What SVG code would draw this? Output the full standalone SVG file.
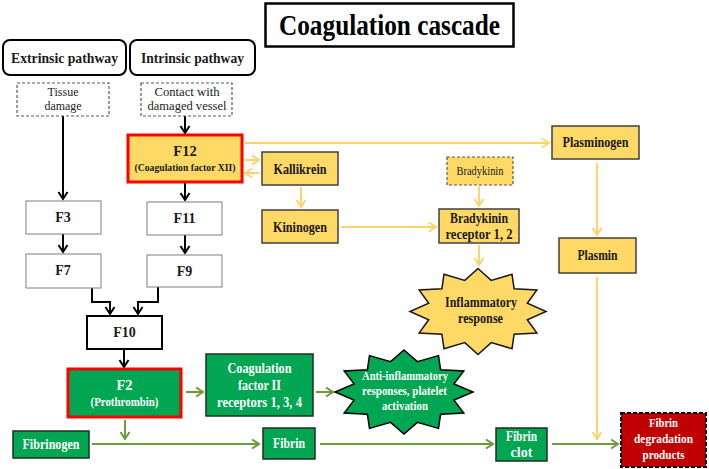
<svg xmlns="http://www.w3.org/2000/svg" width="709" height="469" viewBox="0 0 709 469">
<defs>
<style>
.b{font-family:"Liberation Serif","Times New Roman",serif;font-weight:bold;text-anchor:middle}
.r{font-family:"Liberation Serif","Times New Roman",serif;text-anchor:middle}
.dk{fill:#1a1a1a}
.w{fill:#ffffff}
.wb{fill:#ffffff;stroke:#7f7f7f;stroke-width:1}
.yb{fill:#FFD966;stroke:#404040;stroke-width:1.5}
.gb{fill:#00A651;stroke:#1f2f1f;stroke-width:1.5}
.redb{stroke:#FF0000;stroke-width:3}
.ka{fill:none;stroke:#000;stroke-width:2}
.ya{fill:none;stroke:#FCD46A;stroke-width:2}
.ga{fill:none;stroke:#6B9B3A;stroke-width:2}
</style>
<marker id="mk" markerUnits="userSpaceOnUse" markerWidth="12" markerHeight="12" refX="10" refY="6" orient="auto"><path d="M3,1.5 L10,6 L3,10.5" fill="none" stroke="#000" stroke-width="2"/></marker>
<marker id="my" markerUnits="userSpaceOnUse" markerWidth="12" markerHeight="12" refX="10" refY="6" orient="auto"><path d="M3,1.5 L10,6 L3,10.5" fill="none" stroke="#FCD46A" stroke-width="2"/></marker>
<marker id="mg" markerUnits="userSpaceOnUse" markerWidth="12" markerHeight="12" refX="10" refY="6" orient="auto"><path d="M3,1.5 L10,6 L3,10.5" fill="none" stroke="#6B9B3A" stroke-width="2"/></marker>
</defs>
<rect width="709" height="469" fill="#ffffff"/>

<g id="title">
<rect x="265.5" y="3.5" width="248" height="43" fill="#fff" stroke="#000" stroke-width="2.5"/>
<text class="b" x="389.5" y="35" font-size="30" textLength="221" lengthAdjust="spacingAndGlyphs">Coagulation cascade</text>
</g>

<g id="connectors">
<path class="ka" d="M63,116 V199" marker-end="url(#mk)"/>
<path class="ka" d="M185,116 V133" marker-end="url(#mk)"/>
<path class="ka" d="M63,234 V252" marker-end="url(#mk)"/>
<path class="ka" d="M185,182 V200" marker-end="url(#mk)"/>
<path class="ka" d="M185,235 V253" marker-end="url(#mk)"/>
<path class="ka" d="M92,288 V302 H110 V314" marker-end="url(#mk)"/>
<path class="ka" d="M158,287 V302 H138 V314" marker-end="url(#mk)"/>
<path class="ka" d="M124,349 V367" marker-end="url(#mk)"/>

<path class="ya" d="M245,143 H549" marker-end="url(#my)"/>
<path class="ya" d="M245,160 H259" marker-end="url(#my)"/>
<path class="ya" d="M259,173 H245" marker-end="url(#my)"/>
<path class="ya" d="M301,187 V207" marker-end="url(#my)"/>
<path class="ya" d="M341,227 H436" marker-end="url(#my)"/>
<path class="ya" d="M479,186 V206" marker-end="url(#my)"/>
<path class="ya" d="M479,245 V265" marker-end="url(#my)"/>
<path class="ya" d="M597,163 V235" marker-end="url(#my)"/>
<path class="ya" d="M597,277 V439" marker-end="url(#my)"/>

<path class="ga" d="M186,392 H203" marker-end="url(#mg)"/>
<path class="ga" d="M316,392 H333" marker-end="url(#mg)"/>
<path class="ga" d="M125,420 V439" marker-end="url(#mg)"/>
<path class="ga" d="M92,444 H259" marker-end="url(#mg)"/>
<path class="ga" d="M320,444 H493" marker-end="url(#mg)"/>
<path class="ga" d="M552,444 H618" marker-end="url(#mg)"/>
</g>

<g id="extrinsic">
<rect x="3" y="40" width="123" height="35" rx="7" fill="#fff" stroke="#000" stroke-width="2"/>
<text class="b dk" x="64.5" y="63" font-size="14.5" textLength="107" lengthAdjust="spacingAndGlyphs">Extrinsic pathway</text>
</g>
<g id="intrinsic">
<rect x="130" y="40" width="125" height="35" rx="7" fill="#fff" stroke="#000" stroke-width="2"/>
<text class="b dk" x="192.5" y="63" font-size="14.5" textLength="103" lengthAdjust="spacingAndGlyphs">Intrinsic pathway</text>
</g>
<g id="tissue">
<rect x="17" y="83" width="92" height="33" fill="#fff" stroke="#595959" stroke-width="1.2" stroke-dasharray="3,2"/>
<text class="r dk" x="63" y="96" font-size="13" textLength="31" lengthAdjust="spacingAndGlyphs">Tissue</text>
<text class="r dk" x="63" y="110" font-size="13" textLength="37" lengthAdjust="spacingAndGlyphs">damage</text>
</g>
<g id="contact">
<rect x="141" y="83" width="91" height="33" fill="#fff" stroke="#595959" stroke-width="1.2" stroke-dasharray="3,2"/>
<text class="r dk" x="187" y="96" font-size="13" textLength="65" lengthAdjust="spacingAndGlyphs">Contact with</text>
<text class="r dk" x="187" y="110" font-size="13" textLength="79" lengthAdjust="spacingAndGlyphs">damaged vessel</text>
</g>

<g id="f3"><rect class="wb" x="26" y="201" width="75" height="33"/><text class="b dk" x="63" y="222" font-size="14">F3</text></g>
<g id="f7"><rect class="wb" x="26" y="254" width="75" height="34"/><text class="b dk" x="63" y="275" font-size="14">F7</text></g>
<g id="f11"><rect class="wb" x="147" y="202" width="75" height="33"/><text class="b dk" x="184.5" y="223" font-size="14">F11</text></g>
<g id="f9"><rect class="wb" x="147" y="255" width="75" height="32"/><text class="b dk" x="184.5" y="276" font-size="14">F9</text></g>

<g id="f12">
<rect x="128" y="135" width="114" height="47" fill="#FFD966" class="redb"/>
<text class="b dk" x="185" y="156" font-size="14.5">F12</text>
<text class="b dk" x="185" y="171" font-size="11" textLength="101" lengthAdjust="spacingAndGlyphs">(Coagulation factor XII)</text>
</g>
<g id="kallikrein"><rect class="yb" x="262" y="152" width="76" height="33"/><text class="b dk" x="300" y="173.5" font-size="14" textLength="53" lengthAdjust="spacingAndGlyphs">Kallikrein</text></g>
<g id="kininogen"><rect class="yb" x="262" y="210" width="76" height="33"/><text class="b dk" x="300" y="232" font-size="14" textLength="54" lengthAdjust="spacingAndGlyphs">Kininogen</text></g>
<g id="plasminogen"><rect class="yb" x="552" y="126" width="87" height="33"/><text class="b dk" x="595.5" y="147" font-size="14" textLength="66" lengthAdjust="spacingAndGlyphs">Plasminogen</text></g>
<g id="bradykinin"><rect x="447" y="157" width="66" height="28" fill="#FFD966" stroke="#595959" stroke-width="1.2" stroke-dasharray="3,2"/><text class="r dk" x="480" y="175" font-size="11.5" textLength="47" lengthAdjust="spacingAndGlyphs">Bradykinin</text></g>
<g id="bradykinin-receptor"><rect class="yb" x="439" y="209" width="80" height="34"/>
<text class="b dk" x="479" y="223" font-size="14" textLength="58" lengthAdjust="spacingAndGlyphs">Bradykinin</text>
<text class="b dk" x="479" y="238.5" font-size="14" textLength="67" lengthAdjust="spacingAndGlyphs">receptor 1, 2</text></g>
<g id="plasmin"><rect class="yb" x="559" y="238" width="77" height="35"/><text class="b dk" x="597.5" y="260" font-size="14" textLength="40" lengthAdjust="spacingAndGlyphs">Plasmin</text></g>

<g id="inflammatory">
<polygon points="478,268.5 491.2,280.4 512,274.3 514.1,288.7 536.9,290 527.3,303.2 546,311.5 527.3,319.8 536.9,333 514.1,334.3 512,348.7 491.2,342.6 478,354.5 464.8,342.6 444,348.7 441.9,334.3 419.1,333 428.7,319.8 410,311.5 428.7,303.2 419.1,290 441.9,288.7 444,274.3 464.8,280.4" fill="#FFD966" stroke="#1a1a1a" stroke-width="1.5" stroke-linejoin="miter"/>
<text class="b dk" x="481" y="307" font-size="15" textLength="72" lengthAdjust="spacingAndGlyphs">Inflammatory</text>
<text class="b dk" x="480.5" y="323" font-size="15" textLength="45" lengthAdjust="spacingAndGlyphs">response</text>
</g>

<g id="f10"><rect x="87" y="316" width="75" height="33" fill="#fff" stroke="#000" stroke-width="2"/><text class="b dk" x="124.5" y="337" font-size="14">F10</text></g>
<g id="f2">
<rect x="68" y="369" width="113" height="48" fill="#00A651" class="redb"/>
<text class="b w" x="124.5" y="390" font-size="14.5">F2</text>
<text class="b w" x="124.5" y="406" font-size="13" textLength="68" lengthAdjust="spacingAndGlyphs">(Prothrombin)</text>
</g>
<g id="receptors">
<rect class="gb" x="206" y="354" width="107" height="62"/>
<text class="b w" x="259.5" y="373" font-size="14" textLength="64" lengthAdjust="spacingAndGlyphs">Coagulation</text>
<text class="b w" x="259.5" y="389.5" font-size="14" textLength="43" lengthAdjust="spacingAndGlyphs">factor II</text>
<text class="b w" x="259.5" y="407" font-size="14" textLength="85" lengthAdjust="spacingAndGlyphs">receptors 1, 3, 4</text>
</g>
<g id="anti-inflammatory">
<polygon points="404,350 417.4,361.6 438.5,355.6 440.6,369.7 463.8,371 454,383.9 473,392 454,400.1 463.8,413 440.6,414.3 438.5,428.4 417.4,422.4 404,434 390.6,422.4 369.5,428.4 367.4,414.3 344.2,413 354,400.1 335,392 354,383.9 344.2,371 367.4,369.7 369.5,355.6 390.6,361.6" fill="#00A651" stroke="#000" stroke-width="1.5"/>
<text class="b w" x="405" y="380" font-size="13" textLength="86" lengthAdjust="spacingAndGlyphs">Anti-inflammatory</text>
<text class="b w" x="404.5" y="395" font-size="13" textLength="85" lengthAdjust="spacingAndGlyphs">responses, platelet</text>
<text class="b w" x="405" y="410" font-size="13" textLength="46" lengthAdjust="spacingAndGlyphs">activation</text>
</g>
<g id="fibrinogen"><rect class="gb" x="13" y="431" width="76" height="27"/><text class="b w" x="51" y="448.5" font-size="14" textLength="57" lengthAdjust="spacingAndGlyphs">Fibrinogen</text></g>
<g id="fibrin"><rect class="gb" x="263" y="428" width="52" height="31"/><text class="b w" x="289" y="447.5" font-size="14" textLength="32" lengthAdjust="spacingAndGlyphs">Fibrin</text></g>
<g id="fibrin-clot"><rect class="gb" x="496" y="428" width="51" height="33"/>
<text class="b w" x="521.5" y="440.5" font-size="14" textLength="31" lengthAdjust="spacingAndGlyphs">Fibrin</text>
<text class="b w" x="521.5" y="456.5" font-size="14">clot</text></g>
<g id="fibrin-degradation">
<rect x="621" y="413" width="85" height="54" fill="#C00000" stroke="#000" stroke-width="2" stroke-dasharray="4,2"/>
<text class="b w" x="663.5" y="427" font-size="13" textLength="29" lengthAdjust="spacingAndGlyphs">Fibrin</text>
<text class="b w" x="663.5" y="443" font-size="13" textLength="59" lengthAdjust="spacingAndGlyphs">degradation</text>
<text class="b w" x="663.5" y="459" font-size="13" textLength="42" lengthAdjust="spacingAndGlyphs">products</text>
</g>
</svg>
